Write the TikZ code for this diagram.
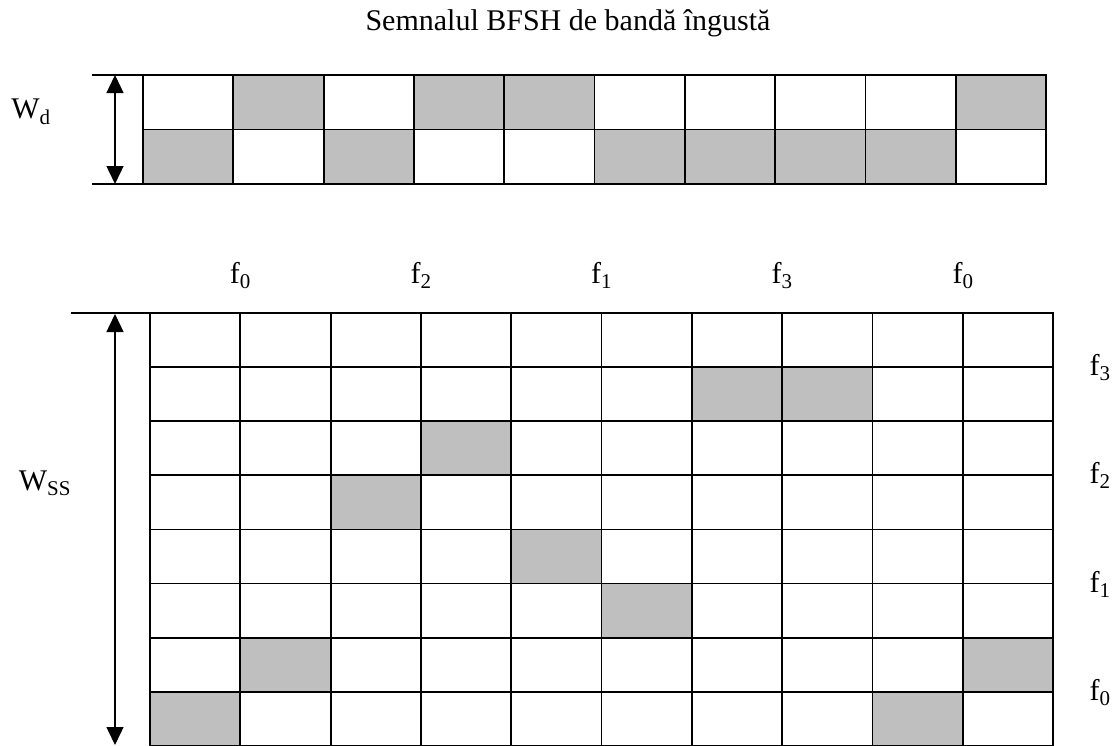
\documentclass[tikz,border=0pt]{standalone}
\usepackage{fontspec}
\setmainfont{Liberation Serif}
\usetikzlibrary{arrows.meta}
\tikzset{
  cellgray/.style={fill=black!25},
  gridline/.style={line width=1.8pt},
  dimline/.style={line width=1.4pt},
  dimarrow/.style={line width=1.4pt, {Triangle[length=18pt,width=17pt]}-{Triangle[length=18pt,width=17pt]}},
  lbl/.style={font=\fontsize{30}{36}\selectfont, inner sep=0pt, anchor=base}
}
\begin{document}
\begin{tikzpicture}[x=1pt, y=-1pt]
  \useasboundingbox (0,0) rectangle (1113,745);
  \node[lbl] (title) at (568,30) {Semnalul BFSH de bandă îngustă};

  % narrow band data signal
  \foreach \c/\r in {2/1,4/1,5/1,10/1,1/2,3/2,6/2,7/2,8/2,9/2}
    \fill[cellgray] ({143+(\c-1)*90.3},{75+(\r-1)*54.5}) rectangle ++(90.3,54.5);
  \foreach \c in {1,...,9} \draw[gridline] ({143+\c*90.3},75) -- ++(0,109);
  \draw[gridline] (143,129.5) -- ++(903,0);
  \draw[gridline] (143,75) rectangle (1046,184);
  \draw[dimline] (92,75) -- (143,75);
  \draw[dimline] (92,184) -- (143,184);
  \coordinate (wdtop) at (115,75);
  \coordinate (wdbot) at (115,184);
  \draw[dimarrow] (wdtop) -- (wdbot);
  \node[lbl] (wd) at (31,118) {W\textsubscript{d}};

  % hopped spread spectrum signal
  \foreach \c/\r in {7/2,8/2,4/3,3/4,5/5,6/6,2/7,10/7,1/8,9/8}
    \fill[cellgray] ({150+(\c-1)*90.3},{313+(\r-1)*54.1}) rectangle ++(90.3,54.1);
  \foreach \c in {1,...,9} \draw[gridline] ({150+\c*90.3},313) -- ++(0,433);
  \foreach \r in {1,...,7} \draw[gridline] (150,{313+\r*54.1}) -- ++(903,0);
  \draw[gridline] (150,313) rectangle (1053,746);
  \draw[dimline] (71,313) -- (150,313);
  \coordinate (wsstop) at (115,314);
  \coordinate (wssbot) at (115,745);
  \draw[dimarrow] (wsstop) -- (wssbot);
  \node[lbl] (wss) at (45,490) {W\textsubscript{SS}};

  % frequency labels
  \foreach \x/\k [count=\i] in {240.3/0,421/2,601.5/1,782/3,963/0}
    \node[lbl] (ft\i) at (\x,283) {f\textsubscript{\k}};
  \foreach \y/\k [count=\i] in {367/3,475/2,584/1,692/0}
    \node[lbl] (fr\i) at (1100,{\y+8}) {f\textsubscript{\k}};
\end{tikzpicture}
\end{document}
